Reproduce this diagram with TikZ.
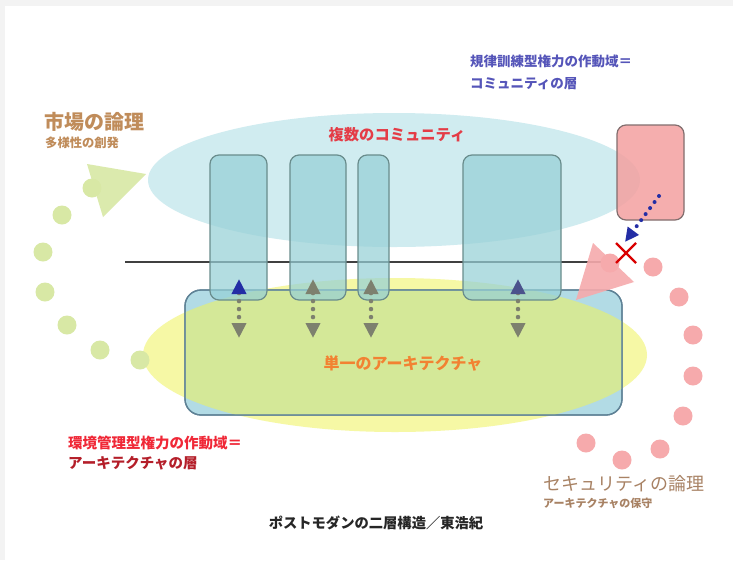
\documentclass[tikz,border=0pt]{standalone}
\usepackage{fontspec}
\newfontfamily\jp{Noto Sans CJK JP}
\usetikzlibrary{arrows.meta}
\definecolor{cyanell}{RGB}{208,236,240}
\definecolor{boxfill}{RGB}{150,208,214}
\definecolor{boxdraw}{RGB}{105,140,140}
\definecolor{rectfill}{RGB}{178,219,229}
\definecolor{rectdraw}{RGB}{95,130,150}
\definecolor{yell}{RGB}{246,248,165}
\definecolor{ygreen}{RGB}{212,232,152}
\definecolor{gdot}{RGB}{216,232,165}
\definecolor{pdot}{RGB}{246,170,172}
\definecolor{redbox}{RGB}{244,160,160}
\definecolor{redboxdraw}{RGB}{130,110,110}
\definecolor{arrgray}{RGB}{125,128,110}
\definecolor{arrblue}{RGB}{35,45,165}
\definecolor{tblue}{RGB}{85,85,185}
\definecolor{tbrown}{RGB}{192,140,90}
\definecolor{tred}{RGB}{228,60,70}
\definecolor{torange}{RGB}{242,130,50}
\definecolor{tred2}{RGB}{240,40,55}
\definecolor{tsec}{RGB}{168,130,100}
\definecolor{frame}{RGB}{243,243,243}
\tikzset{
  commbox/.style={draw=boxdraw, line width=1.2pt, fill=boxfill, fill opacity=0.72, draw opacity=1, rounded corners=9pt, inner sep=0pt},
  dotarrow/.style={draw=arrgray, line width=4.5pt, line cap=round, dash pattern=on 0pt off 8pt,
     {Triangle[width=14pt,length=15pt,color=arrgray,line cap=butt]}-{Triangle[width=14pt,length=15pt,color=arrgray]}},
  gdotstyle/.style={circle, fill=gdot, inner sep=0pt, minimum size=19pt},
  pdotstyle/.style={circle, fill=pdot, inner sep=0pt, minimum size=19pt},
  lbl/.style={inner sep=0pt, anchor=west, font=\jp},
}
\begin{document}
\begin{tikzpicture}[x=1pt,y=-1pt]
\useasboundingbox (0,0) rectangle (733,560);
\fill[white] (0,0) rectangle (733,560);
\fill[frame] (0,0) rectangle (733,6);
\fill[frame] (0,0) rectangle (5,560);

% community ellipse
\fill[cyanell] (394,180) ellipse [x radius=246, y radius=67];
% horizontal line
\draw[black!75, line width=1.1pt] (125,262) coordinate (hl1) -- (610,262) coordinate (hl2);

% architecture layer
\fill[yell] (395,355) ellipse [x radius=252, y radius=77];
\node[draw=rectdraw, line width=1.3pt, fill=rectfill, rounded corners=16pt, minimum width=437pt, minimum height=125pt, inner sep=0pt] (arch) at (403.5,352.5) {};
\begin{scope}
  \clip[rounded corners=16pt] (185.5,290.5) rectangle (621.5,414.5);
  \fill[ygreen] (395,355) ellipse [x radius=252, y radius=77];
\end{scope}
\draw[rectdraw, line width=1.3pt, rounded corners=16pt] (185,290) rectangle (622,415);

% community boxes
\node[commbox, minimum width=57pt, minimum height=145pt] (c1) at (238.5,227.5) {};
\node[commbox, minimum width=56pt, minimum height=145pt] (c2) at (318,227.5) {};
\node[commbox, minimum width=31pt, minimum height=145pt] (c3) at (373.5,227.5) {};
\node[commbox, minimum width=98pt, minimum height=145pt] (c4) at (512,227.5) {};

% vertical dotted double arrows
\coordinate (a1t) at (239,279); \coordinate (a1b) at (239,338);
\coordinate (a2t) at (313,279); \coordinate (a2b) at (313,338);
\coordinate (a3t) at (371,279); \coordinate (a3b) at (371,338);
\coordinate (a4t) at (518,279); \coordinate (a4b) at (518,338);
\draw[dotarrow, {Triangle[width=14pt,length=15pt,color=arrblue]}-{Triangle[width=14pt,length=15pt,color=arrgray]}] (a1t) -- (a1b);
\draw[dotarrow] (a2t) -- (a2b);
\draw[dotarrow] (a3t) -- (a3b);
\draw[dotarrow, {Triangle[width=14pt,length=15pt,color=arrblue!55!arrgray]}-{Triangle[width=14pt,length=15pt,color=arrgray]}] (a4t) -- (a4b);

% left green dots and triangle
\node[gdotstyle] (g1) at (92,188) {};
\node[gdotstyle] (g2) at (62,215) {};
\node[gdotstyle] (g3) at (43,252) {};
\node[gdotstyle] (g4) at (45,292) {};
\node[gdotstyle] (g5) at (67,325) {};
\node[gdotstyle] (g6) at (100,350) {};
\node[gdotstyle] (g7) at (140,360) {};
\fill[gdot, fill opacity=0.9] (87,164) -- (146,174) -- (103,217) -- cycle;

% right pink dots
\node[pdotstyle] (p1) at (610,263) {};
\node[pdotstyle] (p2) at (653,267) {};
\node[pdotstyle] (p3) at (679,297) {};
\node[pdotstyle] (p4) at (693,335) {};
\node[pdotstyle] (p5) at (693,376) {};
\node[pdotstyle] (p6) at (683,416) {};
\node[pdotstyle] (p7) at (660,449) {};
\node[pdotstyle] (p8) at (622,460) {};
\node[pdotstyle] (p9) at (586,443) {};
\fill[pdot, fill opacity=0.9] (593,243) -- (634,282) -- (576,300) -- cycle;

% red security box
\node[draw=redboxdraw, line width=1.2pt, fill=redbox, fill opacity=0.85, draw opacity=1, rounded corners=9pt, minimum width=67pt, minimum height=95pt, inner sep=0pt] (sec) at (650.5,172.5) {};
\coordinate (bs) at (659,196);
\coordinate (be) at (625,242);
\draw[arrblue, line width=4pt, line cap=round, dash pattern=on 0pt off 7.5pt, -{Triangle[width=13pt,length=14pt,color=arrblue]}] (bs) -- (be);
% red X
\coordinate (xc) at (626,253);
\draw[red!85!black, line width=2.2pt] ([shift={(-10,-10)}]xc) -- ([shift={(10,10)}]xc);
\draw[red!85!black, line width=2.2pt] ([shift={(-10,10)}]xc) -- ([shift={(10,-10)}]xc);

% texts
\node[lbl, text=tblue, font=\jp\bfseries\fontsize{13.5}{16}\selectfont] (t1) at (470,61) {規律訓練型権力の作動域＝};
\node[lbl, text=tblue, font=\jp\bfseries\fontsize{13.5}{16}\selectfont] (t2) at (470,84) {コミュニティの層};
\node[lbl, text=tbrown, font=\jp\bfseries\fontsize{20}{24}\selectfont] (t3) at (44,122) {市場の論理};
\node[lbl, text=tbrown, font=\jp\bfseries\fontsize{12.3}{15}\selectfont] (t4) at (45,143) {多様性の創発};
\node[inner sep=0pt, text=tred, font=\jp\bfseries\fontsize{15.3}{18}\selectfont] (t5) at (397,135) {複数のコミュニティ};
\node[inner sep=0pt, text=torange, font=\jp\bfseries\fontsize{16}{19}\selectfont] (t6) at (403,363) {単一のアーキテクチャ};
\node[lbl, text=tred2, font=\jp\bfseries\fontsize{14.5}{17}\selectfont] (t7) at (68,443) {環境管理型権力の作動域＝};
\node[lbl, text=tred2!75!black, font=\jp\bfseries\fontsize{14.5}{17}\selectfont] (t8) at (68,463) {アーキテクチャの層};
\node[lbl, text=tsec, font=\jp\fontsize{18}{21}\selectfont] (t9) at (543,484) {セキュリティの論理};
\node[lbl, text=tsec, font=\jp\bfseries\fontsize{11}{13}\selectfont] (t10) at (543,503) {アーキテクチャの保守};
\node[inner sep=0pt, text=black!85, font=\jp\bfseries\fontsize{14.3}{17}\selectfont] (t11) at (376,523) {ポストモダンの二層構造／東浩紀};
\end{tikzpicture}
\end{document}
